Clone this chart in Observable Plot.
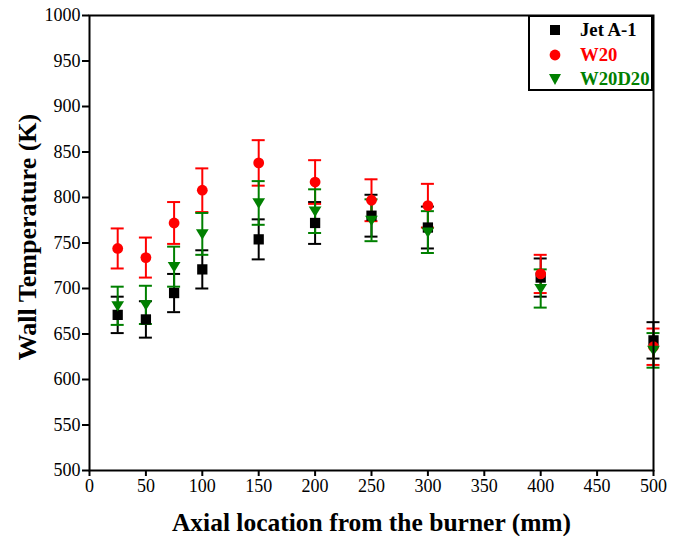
<!DOCTYPE html>
<html>
<head>
<meta charset="utf-8">
<script src="https://cdn.jsdelivr.net/npm/d3@7"></script>
<script src="https://cdn.jsdelivr.net/npm/@observablehq/plot@0.6"></script>
<style>
  body { margin: 0; background: #fff; }
  #wrap { position: relative; width: 679px; height: 536px; }
  #legend {
    position: absolute; left: 528px; top: 15px; width: 121px; height: 72px;
    border: 2px solid #000; background: #fff;
    font-family: "Liberation Serif", serif; font-weight: bold; font-size: 18.7px;
  }
  .mk { position: absolute; left: 19px; width: 12px; height: 12px; }
  .lbl { position: absolute; left: 50px; line-height: 22px; white-space: nowrap; }
</style>
</head>
<body>
<div id="wrap"></div>
<script>
const locations = [25, 50, 75, 100, 150, 200, 250, 300, 400, 500];
const seriesNames = ["Jet A-1", "W20", "W20D20"];
const jetA1 = [671, 666, 695, 721, 754, 772, 780, 767, 712, 643];
const jetA1Err = [20, 20, 21, 21, 22, 23, 23, 23, 21, 20];
const w20 = [744, 734, 772, 808, 838, 817, 797, 791, 716, 636];
const w20Err = [22, 22, 23, 24, 25, 24, 23, 24, 21, 20];
const w20d20 = [681, 682, 724, 760, 794, 785, 775, 762, 700, 632];
const w20d20Err = [21, 21, 22, 23, 24, 24, 23, 23, 21, 19];
const xTicks = [0, 50, 100, 150, 200, 250, 300, 350, 400, 450, 500];
const yTicks = [500, 550, 600, 650, 700, 750, 800, 850, 900, 950, 1000];
const colors = ["#000000", "#ff0000", "#008000"];

const triangleDown = {
  draw(ctx, size) {
    const w = Math.sqrt(size) * 0.62;
    const h = w * 0.9;
    ctx.moveTo(-w, -h * 0.8);
    ctx.lineTo(w, -h * 0.8);
    ctx.lineTo(0, h * 1.0);
    ctx.closePath();
  }
};
const symbols = [d3.symbolSquare, d3.symbolCircle, triangleDown];
const radii = [5.8, 5.4, 5.8];

const series = [[jetA1, jetA1Err], [w20, w20Err], [w20d20, w20d20Err]].map(([v, e], i) =>
  locations.map((x, j) => ({series: seriesNames[i], x, y: v[j], lo: v[j] - e[j], hi: v[j] + e[j]}))
);

const marks = [];
series.forEach((data, i) => {
  marks.push(Plot.ruleX(data, {x: "x", y1: "lo", y2: "hi", stroke: colors[i], strokeWidth: 2}));
  marks.push(Plot.ruleY(data, {y: "lo", x1: "x", x2: "x", insetLeft: -6.5, insetRight: -6.5, stroke: colors[i], strokeWidth: 2}));
  marks.push(Plot.ruleY(data, {y: "hi", x1: "x", x2: "x", insetLeft: -6.5, insetRight: -6.5, stroke: colors[i], strokeWidth: 2}));
});
series.forEach((data, i) => {
  marks.push(Plot.dot(data, {x: "x", y: "y", symbol: () => symbols[i], r: radii[i], fill: colors[i], stroke: "none"}));
});

const chart = Plot.plot({
  width: 679,
  height: 536,
  marginLeft: 89,
  marginRight: 26,
  marginTop: 15,
  marginBottom: 66,
  style: {fontFamily: "Liberation Serif", background: "#fff", color: "#000"},
  x: {domain: [0, 500]},
  y: {domain: [500, 1000]},
  symbol: {type: "identity"},
  marks: [
    ...marks,
    Plot.frame({stroke: "#000", strokeWidth: 2}),
    Plot.axisX({ticks: xTicks, tickSize: 6, tickPadding: 3, fontSize: 18, strokeWidth: 2, tickFormat: d3.format("d"),
      label: "Axial location from the burner (mm)", labelAnchor: "center", labelArrow: "none", labelOffset: 60}),
    Plot.axisY({ticks: yTicks, tickSize: 7, tickPadding: 2, fontSize: 18, strokeWidth: 2, tickFormat: d3.format("d"),
      label: "Wall Temperature (K)", labelAnchor: "center", labelArrow: "none", labelOffset: 72})
  ]
});
chart.querySelectorAll("text").forEach(t => {
  const g = t.closest("g[aria-label]");
  const role = g ? g.getAttribute("aria-label") : "";
  t.style.fontFamily = "'Liberation Serif', serif";
  if (role.includes("axis label")) {
    t.style.fontWeight = "bold";
    if (role.startsWith("y")) {
      t.style.fontSize = "26px";
      t.setAttribute("x", 6);
    } else {
      t.style.fontSize = "25.5px";
    }
  } else {
    t.style.fontSize = "18px";
  }
});
const wrap = document.getElementById("wrap");
wrap.appendChild(chart);

// legend
const legend = document.createElement("div");
legend.id = "legend";
const shapes = [
  '<rect x="1" y="1" width="10" height="10"/>',
  '<circle cx="6" cy="6" r="5.4"/>',
  '<path d="M0,1 L12,1 L6,12 Z"/>'
];
seriesNames.forEach((name, i) => {
  const cy = 13 + i * 24.5;
  const mk = document.createElementNS("http://www.w3.org/2000/svg", "svg");
  mk.setAttribute("class", "mk");
  mk.setAttribute("viewBox", "0 0 12 12");
  mk.style.top = (cy - 6) + "px";
  mk.style.fill = colors[i];
  mk.innerHTML = shapes[i];
  legend.appendChild(mk);
  const lbl = document.createElement("div");
  lbl.className = "lbl";
  lbl.style.top = (cy - 11) + "px";
  lbl.style.color = colors[i];
  lbl.textContent = name;
  legend.appendChild(lbl);
});
wrap.appendChild(legend);
</script>
</body>
</html>
